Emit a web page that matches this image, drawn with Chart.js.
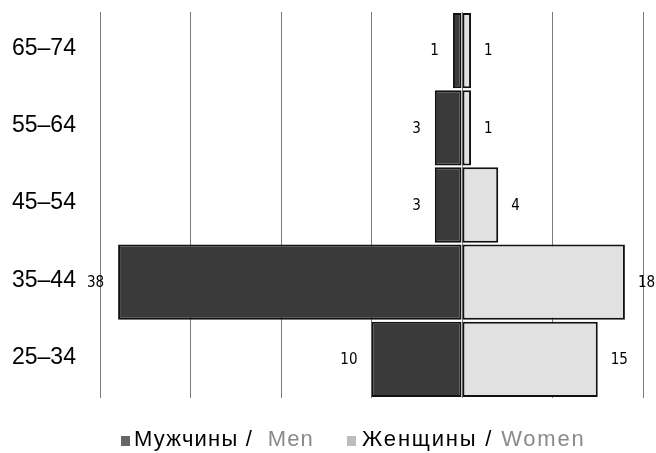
<!DOCTYPE html>
<html>
<head>
<meta charset="utf-8">
<script src="https://cdn.jsdelivr.net/npm/chart.js@4"></script>
<style>
  html, body { margin: 0; padding: 0; background: #fff; }
  #wrap { position: relative; width: 656px; height: 453px; }
  canvas { display: block; }
  #legend {
    position: absolute; left: 0; top: 428px; width: 656px;
    font-family: "Liberation Sans", Arial, sans-serif; font-size: 22px;
    letter-spacing: 1.2px; line-height: 22px;
    color: #000; white-space: nowrap;
  }
  .item { position: absolute; top: 0; }
  .sw { display: inline-block; width: 9px; height: 10px; margin-right: 4px; vertical-align: 0px; }
  .en { color: #8a8a8a; }
</style>
</head>
<body>
<div id="wrap">
  <canvas id="c" width="656" height="453"></canvas>
  <div id="legend">
    <span class="item" style="left:121px"><span class="sw" style="background:#666"></span>Мужчины /&nbsp; <span class="en">Men</span></span>
    <span class="item" style="left:347px; letter-spacing:1.8px"><span class="sw" style="background:#bdbdbd; margin-right:6px"></span>Женщины / <span class="en">Women</span></span>
  </div>
</div>
<script>
// Age groups, top to bottom
const ageGroups = ['65–74', '55–64', '45–54', '35–44', '25–34'];
// Head counts per age group
const men = [1, 3, 3, 38, 10];
const women = [1, 1, 4, 18, 15];
// Value axis ticks (men plotted to the left of zero)
const axisTicks = [-40, -30, -20, -10, 0, 10, 20];

// Prints each bar's count just beyond its outer end
const barValueLabels = {
  id: 'barValueLabels',
  afterDatasetsDraw(chart) {
    const ctx = chart.ctx;
    ctx.save();
    ctx.font = '15px "DejaVu Sans Condensed", "DejaVu Sans", sans-serif';
    ctx.fillStyle = '#000';
    ctx.textBaseline = 'middle';
    chart.data.datasets.forEach((ds, di) => {
      const meta = chart.getDatasetMeta(di);
      meta.data.forEach((bar, i) => {
        const v = ds.data[i];
        const left = v < 0;
        ctx.textAlign = left ? 'right' : 'left';
        const x = bar.x + (left ? -14 : 13);
        ctx.fillText(String(Math.abs(v)), x, bar.y + 1);
      });
    });
    ctx.restore();
  }
};

new Chart(document.getElementById('c'), {
  type: 'bar',
  data: {
    labels: ageGroups,
    datasets: [
      {
        label: 'Мужчины / Men',
        data: men.map(v => -v),
        backgroundColor: '#3a3a3a',
        borderColor: '#111',
        borderWidth: 2,
        borderSkipped: false,
        barPercentage: 0.975,
        categoryPercentage: 1
      },
      {
        label: 'Женщины / Women',
        data: women,
        backgroundColor: '#e1e1e1',
        borderColor: '#111',
        borderWidth: 2,
        borderSkipped: false,
        barPercentage: 0.975,
        categoryPercentage: 1
      }
    ]
  },
  options: {
    indexAxis: 'y',
    responsive: false,
    animation: false,
    layout: { padding: { left: 12, right: 13, top: 12, bottom: 55 } },
    plugins: { legend: { display: false }, tooltip: { enabled: false } },
    scales: {
      x: {
        stacked: true,
        min: axisTicks[0],
        max: axisTicks[axisTicks.length - 1],
        afterBuildTicks(scale) { scale.ticks = axisTicks.map(v => ({ value: v })); },
        ticks: { display: false },
        grid: { color: '#7a7a7a', lineWidth: 1, drawTicks: false },
        border: { display: false }
      },
      y: {
        stacked: true,
        afterFit(scale) { scale.width = 88; },
        ticks: {
          crossAlign: 'far',
          labelOffset: -2,
          color: '#000',
          font: { family: '"Liberation Sans", Arial, sans-serif', size: 23, lineHeight: 0.6 }
        },
        grid: { display: false, drawTicks: false },
        border: { display: false }
      }
    }
  },
  plugins: [barValueLabels]
});
</script>
</body>
</html>
